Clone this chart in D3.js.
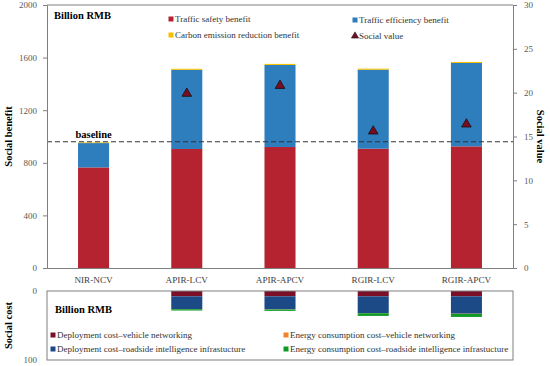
<!DOCTYPE html>
<html>
<head>
<meta charset="utf-8">
<script src="https://cdn.jsdelivr.net/npm/d3@7"></script>
<style>
  body { margin: 0; background: #fff; }
  svg text { font-family: "Liberation Serif", "Times New Roman", serif !important; }
</style>
</head>
<body>
<div id="chart"></div>
<script>
// Data
const categories = ["NIR-NCV", "APIR-LCV", "APIR-APCV", "RGIR-LCV", "RGIR-APCV"];
const safetyBenefit = [765, 905, 920, 907, 925];
const efficiencyBenefit = [185, 602, 624, 601, 634];
const carbonBenefit = [5, 8, 8, 8, 8];
const socialValue = [null, 19.9, 20.8, 15.6, 16.4];
const baseline = 960;

const costVehicleDeploy = [0, 7.7, 7.7, 7.7, 7.7];
const costRoadsideDeploy = [0, 18.4, 18.8, 24.2, 25.2];
const costVehicleEnergy = [0, 0.3, 0.3, 0.3, 0.3];
const costRoadsideEnergy = [0, 1.9, 2.0, 3.9, 4.4];

const benefitTicks = [0, 400, 800, 1200, 1600, 2000];
const valueTicks = [0, 5, 10, 15, 20, 25, 30];
const costTicks = [0, 100];

const width = 550, height = 366;
const left = 47, right = 513;
const top1 = 5, bottom1 = 268;
const top2 = 291, bottom2 = 360;
const serif = "'Liberation Serif', 'Times New Roman', serif";

const col = {
  safety: "#b52331", efficiency: "#2e7dbd", carbon: "#f5c000", value: "#7a0c22",
  vDeploy: "#7a0f27", rDeploy: "#1c4a86", vEnergy: "#f0832e", rEnergy: "#109a25",
  axis: "#7f7f7f", tick: "#595959"
};

const svg = d3.select("#chart").append("svg")
    .attr("width", width)
    .attr("height", height)
    .style("font-family", serif);

const x = d3.scaleBand().domain(categories).range([left, right]).paddingInner(0.667).paddingOuter(0.333);
const y = d3.scaleLinear().domain([0, 2000]).range([bottom1, top1]);
const y2 = d3.scaleLinear().domain([0, 30]).range([bottom1, top1]);
const yc = d3.scaleLinear().domain([0, 100]).range([top2, bottom2]);

// stacked benefit bars
const benefitKeys = ["safety", "efficiency", "carbon"];
const benefitRows = categories.map((c, i) => ({
  cat: c, safety: safetyBenefit[i], efficiency: efficiencyBenefit[i], carbon: carbonBenefit[i]
}));
const stack1 = d3.stack().keys(benefitKeys)(benefitRows);

svg.append("g")
  .selectAll("g")
  .data(stack1)
  .join("g")
    .attr("fill", d => col[d.key])
  .selectAll("rect")
  .data(d => d)
  .join("rect")
    .attr("x", d => x(d.data.cat))
    .attr("width", x.bandwidth())
    .attr("y", d => y(d[1]))
    .attr("height", d => y(d[0]) - y(d[1]));

// baseline
svg.append("line")
    .attr("x1", left).attr("x2", right)
    .attr("y1", y(baseline)).attr("y2", y(baseline))
    .attr("stroke", "#333").attr("stroke-width", 1)
    .attr("stroke-dasharray", "5,3");

svg.append("text")
    .attr("x", x("NIR-NCV") + x.bandwidth() / 2)
    .attr("y", y(baseline) - 4)
    .attr("text-anchor", "middle")
    .attr("font-size", 10.5)
    .attr("font-weight", "bold")
  .text("baseline");

// social value triangles
const tri = d3.symbol().type(d3.symbolTriangle).size(40);
svg.append("g")
  .selectAll("path")
  .data(categories.map((c, i) => ({ cat: c, v: socialValue[i] })).filter(d => d.v != null))
  .join("path")
    .attr("d", tri)
    .attr("transform", d => `translate(${x(d.cat) + x.bandwidth() / 2},${y2(d.v)})`)
    .attr("fill", col.value)
    .attr("stroke", "#111")
    .attr("stroke-width", 0.8);

// axes top plot
function styleAxis(g) {
  g.attr("font-family", serif);
  g.selectAll(".domain").attr("stroke", col.axis);
  g.selectAll(".tick line").attr("stroke", col.axis);
  g.selectAll(".tick text")
    .attr("fill", col.tick)
    .attr("font-size", 9);
}

svg.append("g")
    .attr("transform", `translate(${left},0)`)
    .call(d3.axisLeft(y).tickValues(benefitTicks).tickFormat(d3.format("d")).tickSize(4).tickPadding(6))
    .call(styleAxis);

svg.append("g")
    .attr("transform", `translate(${right},0)`)
    .call(d3.axisRight(y2).tickValues(valueTicks).tickFormat(d3.format("d")).tickSize(4).tickPadding(7))
    .call(styleAxis);

svg.append("g")
    .attr("transform", `translate(0,${bottom1})`)
    .call(d3.axisBottom(x).tickSize(0).tickPadding(8))
    .call(styleAxis)
    .call(g => g.selectAll(".tick text").attr("font-size", 9.2).attr("fill", "#404040").attr("dy", "0.8em"));

svg.append("line")
    .attr("x1", left).attr("x2", right)
    .attr("y1", top1).attr("y2", top1)
    .attr("stroke", col.axis);

// title labels
svg.append("text")
    .attr("x", 54).attr("y", 19)
    .attr("font-size", 10.5).attr("font-weight", "bold")
  .text("Billion RMB");

svg.append("text")
    .attr("transform", `translate(12,${(top1 + bottom1) / 2}) rotate(-90)`)
    .attr("text-anchor", "middle")
    .attr("font-size", 10.5).attr("font-weight", "bold")
  .text("Social benefit");

svg.append("text")
    .attr("transform", `translate(537,${(top1 + bottom1) / 2}) rotate(90)`)
    .attr("text-anchor", "middle")
    .attr("font-size", 10.5).attr("font-weight", "bold")
  .text("Social value");

// top legend
const legend1 = [
  { label: "Traffic safety benefit", color: col.safety, x: 171, y: 19, shape: "sq" },
  { label: "Traffic efficiency benefit", color: col.efficiency, x: 355, y: 20, shape: "sq" },
  { label: "Carbon emission reduction benefit", color: col.carbon, x: 171, y: 35, shape: "sq" },
  { label: "Social value", color: col.value, x: 355, y: 36, shape: "tri" }
];
const lg1 = svg.append("g").selectAll("g").data(legend1).join("g")
    .attr("transform", d => `translate(${d.x},${d.y})`);
lg1.filter(d => d.shape === "sq").append("rect")
    .attr("x", -2.5).attr("y", -2.5).attr("width", 5).attr("height", 5)
    .attr("fill", d => d.color);
lg1.filter(d => d.shape === "tri").append("path")
    .attr("d", d3.symbol().type(d3.symbolTriangle).size(22))
    .attr("fill", d => d.color).attr("stroke", "#111").attr("stroke-width", 0.6);
lg1.append("text")
    .attr("x", 4).attr("dy", "0.35em")
    .attr("font-size", 9).attr("fill", "#333")
  .text(d => d.label);

// cost plot
const costKeys = ["vDeploy", "rDeploy", "vEnergy", "rEnergy"];
const costRows = categories.map((c, i) => ({
  cat: c, vDeploy: costVehicleDeploy[i], rDeploy: costRoadsideDeploy[i],
  vEnergy: costVehicleEnergy[i], rEnergy: costRoadsideEnergy[i]
}));
const stack2 = d3.stack().keys(costKeys)(costRows);

svg.append("g")
  .selectAll("g")
  .data(stack2)
  .join("g")
    .attr("fill", d => col[d.key])
  .selectAll("rect")
  .data(d => d)
  .join("rect")
    .attr("x", d => x(d.data.cat))
    .attr("width", x.bandwidth())
    .attr("y", d => yc(d[0]))
    .attr("height", d => yc(d[1]) - yc(d[0]));

svg.append("rect")
    .attr("x", left).attr("y", top2)
    .attr("width", right - left).attr("height", bottom2 - top2)
    .attr("fill", "none").attr("stroke", col.axis);

svg.append("g")
    .attr("transform", `translate(${left},0)`)
    .call(d3.axisLeft(yc).tickValues(costTicks).tickSize(0).tickPadding(10))
    .call(styleAxis)
    .call(g => g.select(".domain").remove());

svg.append("text")
    .attr("transform", `translate(12,${(top2 + bottom2) / 2}) rotate(-90)`)
    .attr("text-anchor", "middle")
    .attr("font-size", 10.5).attr("font-weight", "bold")
  .text("Social cost");

svg.append("text")
    .attr("x", 55).attr("y", 313)
    .attr("font-size", 10.5).attr("font-weight", "bold")
  .text("Billion RMB");

const legend2 = [
  { label: "Deployment cost\u2013vehicle networking", color: col.vDeploy, x: 53, y: 335 },
  { label: "Energy consumption cost\u2013vehicle networking", color: col.vEnergy, x: 286, y: 335 },
  { label: "Deployment cost\u2013roadside intelligence infrastucture", color: col.rDeploy, x: 53, y: 349 },
  { label: "Energy consumption cost\u2013roadside intelligence infrastucture", color: col.rEnergy, x: 286, y: 349 }
];
const lg2 = svg.append("g").selectAll("g").data(legend2).join("g")
    .attr("transform", d => `translate(${d.x},${d.y})`);
lg2.append("rect")
    .attr("x", -2.5).attr("y", -2.5).attr("width", 5).attr("height", 5)
    .attr("fill", d => d.color);
lg2.append("text")
    .attr("x", 4).attr("dy", "0.35em")
    .attr("font-size", 9).attr("fill", "#333")
  .text(d => d.label);
</script>
</body>
</html>
